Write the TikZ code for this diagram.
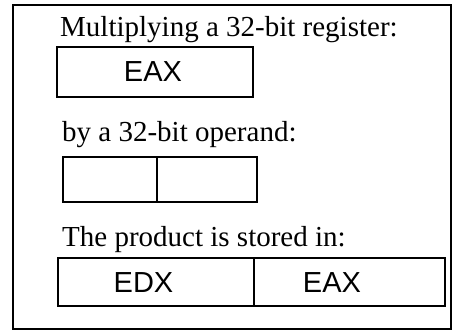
\documentclass[tikz,border=0pt]{standalone}
\usepackage{fontspec}
\setmainfont{Liberation Serif}
\newfontfamily\regfont{Liberation Sans}
\begin{document}
\begin{tikzpicture}[x=1pt,y=-1pt,
  lbl/.style={anchor=base west,inner sep=0pt,font=\fontsize{29}{32}\selectfont},
  reg/.style={draw,line width=1.8pt,inner sep=0pt},
  regtxt/.style={anchor=base,inner sep=0pt,font=\regfont\fontsize{29}{32}\selectfont},
  frame/.style={draw,line width=1.6pt}]
\useasboundingbox (0,0) rectangle (452,331);
\draw[frame] (13,5) rectangle (451,329);
\node[lbl] (t1) at (60,36.5) {Multiplying a 32-bit register:};
\draw[reg] (57,47) rectangle (253,97);
\node[regtxt] (e1) at (153,81.5) {EAX};
\node[lbl] (t2) at (62,141.5) {by a 32-bit operand:};
\draw[reg] (63,157) rectangle (257,202);
\draw[reg] (157,157) -- (157,202);
\node[lbl] (t3) at (62,246) {The product is stored in:};
\draw[reg] (58,258) rectangle (445,306);
\draw[reg] (254,258) -- (254,306);
\node[regtxt] (e2) at (143.5,292) {EDX};
\node[regtxt] (e3) at (332,292) {EAX};
\end{tikzpicture}
\end{document}
